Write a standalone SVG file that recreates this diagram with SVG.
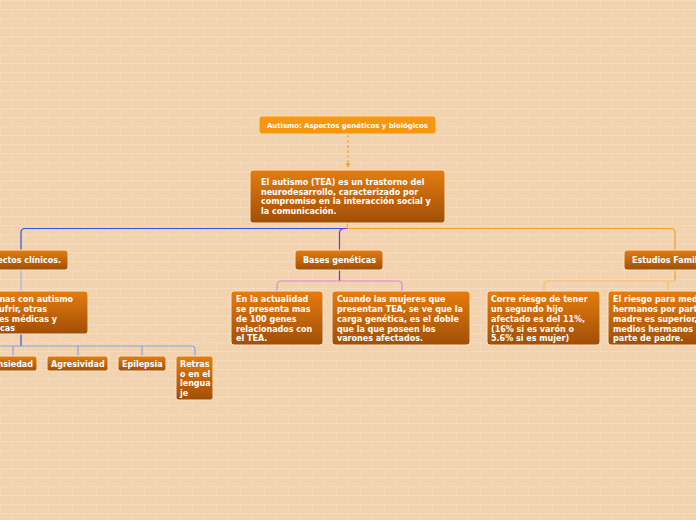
<svg xmlns="http://www.w3.org/2000/svg" width="696" height="520" viewBox="0 0 696 520">
<defs>
<pattern id="brick" width="48" height="18" patternUnits="userSpaceOnUse">
<rect width="48" height="18" fill="#f2d3b0"/>
<path d="M0,0.5H48M0,9.5H48M0.5,0V9M24.5,0V9M12.5,9V18M36.5,9V18" stroke="#f5dabd" stroke-width="1" fill="none"/>
<path d="M0,8.5H48M0,17.5H48" stroke="#efcea9" stroke-width="0.5" fill="none"/>
</pattern>
<linearGradient id="og" x1="0" y1="0" x2="0" y2="1">
<stop offset="0" stop-color="#e57d0f"/>
<stop offset="1" stop-color="#a04e07"/>
</linearGradient>
<marker id="arr" markerWidth="6" markerHeight="6" refX="3" refY="3" orient="auto" markerUnits="userSpaceOnUse">
<path d="M0,0.5L5,3L0,5.5z" fill="#f7a520"/>
</marker>
</defs>
<style>
.box{fill:url(#og);stroke:#fbe3c6;stroke-width:1}
.root{fill:#f7960f;stroke:#fbd9a8;stroke-width:1}
text{font-family:"DejaVu Sans",Verdana,sans-serif;font-weight:bold;font-size:8px;fill:#ffffff}
.c{fill:none;stroke-width:1.2}
</style>
<rect width="696" height="520" fill="url(#brick)"/>
<g id="connectors">
<path class="c" d="M348,135V166" stroke="#f7a520" stroke-dasharray="3,2" marker-end="url(#arr)"/>
<path class="c" d="M347,228.5H25Q21,228.5 21,232.5V250" stroke="#2d55e6"/>
<path class="c" d="M345,228.5Q339.5,228.5 339.5,233V250" stroke="#9b1fcc"/>
<path class="c" d="M347.5,223V228.5H671Q675,228.5 675,232.5V250" stroke="#f2a030"/>
<path class="c" d="M21,270V291" stroke="#a9b1de"/>
<path class="c" d="M21,334V346" stroke="#2d55e6"/>
<path class="c" d="M-40,346H191Q195,346 195,350V356M13,346V356M78,346V356M142,346V356" stroke="#8d9ee6"/>
<path class="c" d="M339.5,270V281" stroke="#9b1fcc"/>
<path class="c" d="M277,291V285Q277,281 281,281H398Q402,281 402,285V291" stroke="#d68ad8"/>
<path class="c" d="M675,270V281" stroke="#f2a030"/>
<path class="c" d="M544,291V285Q544,281 548,281H675M668,281V291" stroke="#f6bb6a"/>
</g>
<g id="root">
<rect class="root" x="259" y="116" width="177" height="18" rx="3"/>
<text x="267" y="128" style="font-size:7px" textLength="161">Autismo: Aspectos genéticos y biológicos</text>
</g>
<g id="main">
<rect class="box" x="250" y="170" width="195" height="53" rx="3"/>
<text x="261" y="185">El autismo (TEA) es un trastorno del</text>
<text x="261" y="194.5">neurodesarrollo, caracterizado por</text>
<text x="261" y="204">compromiso en la interacción social y</text>
<text x="261" y="213.5">la comunicación.</text>
</g>
<g id="clinicos">
<rect class="box" x="-26" y="250" width="94" height="20" rx="3"/>
<text x="61" y="263" text-anchor="end">Aspectos clínicos.</text>
</g>
<g id="clinicos-detalle">
<rect class="box" x="-49" y="291" width="137" height="43" rx="3"/>
<text x="73" y="302" text-anchor="end">Las personas con autismo</text>
<text x="47" y="312" text-anchor="end">pueden sufrir, otras</text>
<text x="57" y="321.5" text-anchor="end">condiciones médicas y</text>
<text x="15" y="331" text-anchor="end">psiquiátricas</text>
</g>
<g id="ansiedad">
<rect class="box" x="-11" y="356" width="48" height="15" rx="2.5"/>
<text x="33" y="367" text-anchor="end">Ansiedad</text>
</g>
<g id="agresividad">
<rect class="box" x="47" y="356" width="61" height="15" rx="2.5"/>
<text x="51" y="367">Agresividad</text>
</g>
<g id="epilepsia">
<rect class="box" x="118" y="356" width="48" height="15" rx="2.5"/>
<text x="122" y="367">Epilepsia</text>
</g>
<g id="retraso">
<rect class="box" x="176" y="356" width="37" height="44" rx="2.5"/>
<text x="180" y="367">Retras</text>
<text x="180" y="376.5">o en el</text>
<text x="180" y="386">lengua</text>
<text x="180" y="396">je</text>
</g>
<g id="bases">
<rect class="box" x="295" y="250" width="88" height="20" rx="3"/>
<text x="303" y="263">Bases genéticas</text>
</g>
<g id="actualidad">
<rect class="box" x="231" y="291" width="92" height="54" rx="3"/>
<text x="236" y="302">En la actualidad</text>
<text x="236" y="312">se presenta mas</text>
<text x="236" y="322">de 100 genes</text>
<text x="236" y="331.5">relacionados con</text>
<text x="236" y="341">el TEA.</text>
</g>
<g id="mujeres">
<rect class="box" x="332" y="291" width="138" height="54" rx="3"/>
<text x="337" y="302">Cuando las mujeres que</text>
<text x="337" y="312">presentan TEA, se ve que la</text>
<text x="337" y="322">carga genética, es el doble</text>
<text x="337" y="331.5">que la que poseen los</text>
<text x="337" y="341">varones afectados.</text>
</g>
<g id="familiares">
<rect class="box" x="624" y="250" width="110" height="20" rx="3"/>
<text x="632" y="263">Estudios Familiares</text>
</g>
<g id="segundo-hijo">
<rect class="box" x="487" y="291" width="113" height="54" rx="3"/>
<text x="491" y="302">Corre riesgo de tener</text>
<text x="491" y="312">un segundo hijo</text>
<text x="491" y="322">afectado es del 11%,</text>
<text x="491" y="331.5">(16% si es varón o</text>
<text x="491" y="341">5.6% si es mujer)</text>
</g>
<g id="medios-hermanos">
<rect class="box" x="608" y="291" width="120" height="54" rx="3"/>
<text x="613" y="302">El riesgo para medios</text>
<text x="613" y="312">hermanos por parte de</text>
<text x="613" y="322">madre es superior, que</text>
<text x="613" y="331.5">medios hermanos por</text>
<text x="613" y="341">parte de padre.</text>
</g>
</svg>
